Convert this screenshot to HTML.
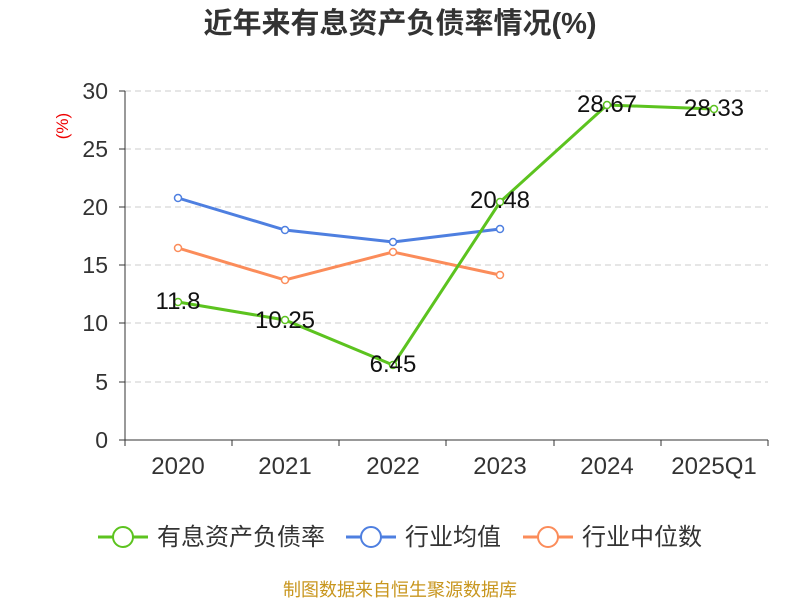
<!DOCTYPE html>
<html><head><meta charset="utf-8"><style>body{margin:0;background:#fff}svg{display:block}</style></head><body>
<svg width="800" height="600" xmlns="http://www.w3.org/2000/svg" font-family="Liberation Sans, Noto Sans CJK SC, sans-serif">
<rect width="800" height="600" fill="#fff"/>
<text x="400" y="33" text-anchor="middle" font-size="29" font-weight="bold" fill="#333">近年来有息资产负债率情况(%)</text>
<text x="68" y="126" font-size="17" fill="#e00" text-anchor="middle" transform="rotate(-90 68 126)">(%)</text>
<g stroke="#ccc" stroke-dasharray="6,4" stroke-width="1">
<line x1="125" x2="768" y1="91" y2="91"/><line x1="125" x2="768" y1="149" y2="149"/><line x1="125" x2="768" y1="207" y2="207"/><line x1="125" x2="768" y1="265" y2="265"/><line x1="125" x2="768" y1="323" y2="323"/><line x1="125" x2="768" y1="382" y2="382"/>
</g>
<g stroke="#333" stroke-width="1">
<line x1="125" x2="125" y1="91" y2="440"/><line x1="125" x2="768" y1="440" y2="440"/>
<line x1="119" x2="125" y1="91" y2="91"/><line x1="119" x2="125" y1="149" y2="149"/><line x1="119" x2="125" y1="207" y2="207"/><line x1="119" x2="125" y1="265" y2="265"/><line x1="119" x2="125" y1="323" y2="323"/><line x1="119" x2="125" y1="382" y2="382"/><line x1="119" x2="125" y1="440" y2="440"/>
<line x1="125" x2="125" y1="440" y2="446"/><line x1="232" x2="232" y1="440" y2="446"/><line x1="339" x2="339" y1="440" y2="446"/><line x1="446" x2="446" y1="440" y2="446"/><line x1="554" x2="554" y1="440" y2="446"/><line x1="661" x2="661" y1="440" y2="446"/><line x1="768" x2="768" y1="440" y2="446"/>
</g>
<g font-size="23" fill="#333" text-anchor="end">
<text x="108" y="99">30</text><text x="108" y="157">25</text><text x="108" y="215">20</text><text x="108" y="273">15</text><text x="108" y="331">10</text><text x="108" y="390">5</text><text x="108" y="448">0</text>
</g>
<g font-size="24" fill="#333" text-anchor="middle">
<text x="178" y="474">2020</text><text x="285" y="474">2021</text><text x="393" y="474">2022</text><text x="500" y="474">2023</text><text x="607" y="474">2024</text><text x="714" y="474">2025Q1</text>
</g>
<g fill="none" stroke-width="3">
<polyline stroke="#4e7fe0" points="178,198 285,230 393,242 500,229"/>
<polyline stroke="#fb8c5a" points="178,248 285,280 393,252 500,275"/>
<polyline stroke="#5cc31f" points="178,302 285,320 393,365 500,202 607,105 714,109"/>
</g>
<g fill="#fff" stroke-width="1.5">
<g stroke="#4e7fe0"><circle cx="178" cy="198" r="3.5"/><circle cx="285" cy="230" r="3.5"/><circle cx="393" cy="242" r="3.5"/><circle cx="500" cy="229" r="3.5"/></g>
<g stroke="#fb8c5a"><circle cx="178" cy="248" r="3.5"/><circle cx="285" cy="280" r="3.5"/><circle cx="393" cy="252" r="3.5"/><circle cx="500" cy="275" r="3.5"/></g>
<g stroke="#5cc31f"><circle cx="178" cy="302" r="3.5"/><circle cx="285" cy="320" r="3.5"/><circle cx="393" cy="365" r="3.5"/><circle cx="500" cy="202" r="3.5"/><circle cx="607" cy="105" r="3.5"/><circle cx="714" cy="109" r="3.5"/></g>
</g>
<g font-size="24" fill="#111" text-anchor="middle">
<text x="178" y="309">11.8</text><text x="285" y="328">10.25</text><text x="393" y="372">6.45</text><text x="500" y="208">20.48</text><text x="607" y="112">28.67</text><text x="714" y="116">28.33</text>
</g>
<g font-size="24" fill="#333">
<line x1="98" x2="148" y1="537" y2="537" stroke="#5cc31f" stroke-width="3"/><circle cx="123" cy="537" r="10" fill="#fff" stroke="#5cc31f" stroke-width="2"/><text x="157" y="545">有息资产负债率</text>
<line x1="346" x2="396" y1="537" y2="537" stroke="#4e7fe0" stroke-width="3"/><circle cx="371" cy="537" r="10" fill="#fff" stroke="#4e7fe0" stroke-width="2"/><text x="405" y="545">行业均值</text>
<line x1="523" x2="573" y1="537" y2="537" stroke="#fb8c5a" stroke-width="3"/><circle cx="548" cy="537" r="10" fill="#fff" stroke="#fb8c5a" stroke-width="2"/><text x="582" y="545">行业中位数</text>
</g>
<text x="400" y="596" text-anchor="middle" font-size="18" fill="#c8961e">制图数据来自恒生聚源数据库</text>
</svg>
</body></html>
